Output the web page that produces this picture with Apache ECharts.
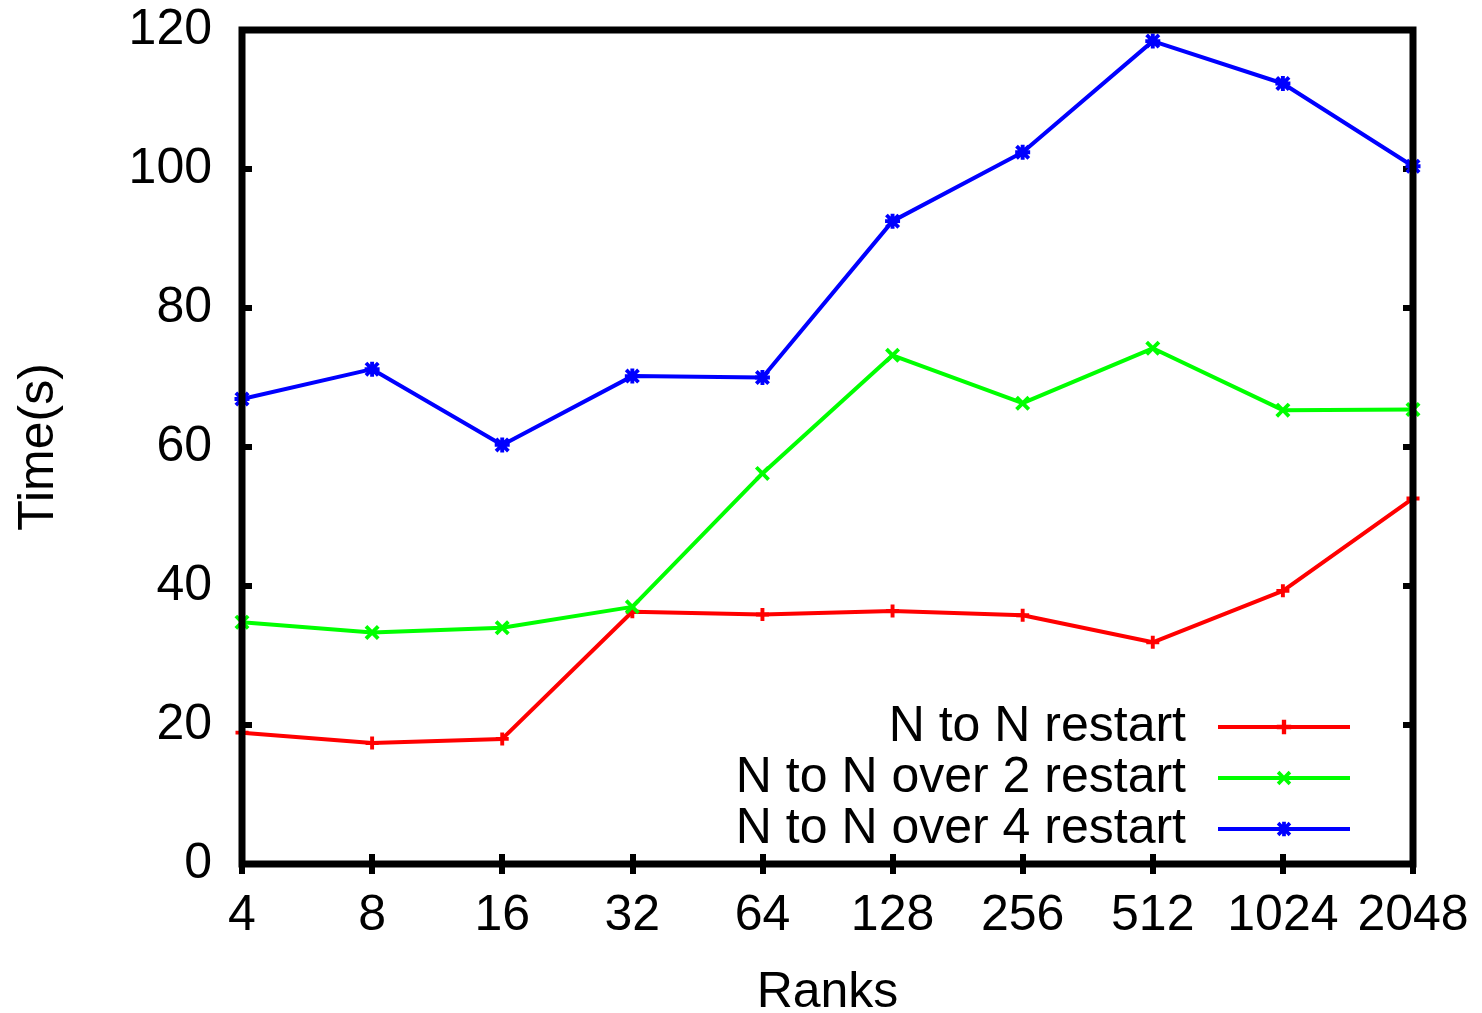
<!DOCTYPE html>
<html>
<head>
<meta charset="utf-8">
<script src="https://cdn.jsdelivr.net/npm/echarts@6/dist/echarts.min.js"></script>
<style>html,body{margin:0;padding:0;background:#fff;}#c{width:1482px;height:1013px;}</style>
</head>
<body>
<div id="c"></div>
<script>
const categories = ['4','8','16','32','64','128','256','512','1024','2048'];
const seriesNames = ['N to N restart','N to N over 2 restart','N to N over 4 restart'];
const nToN = [18.9,17.4,18.0,36.3,35.9,36.4,35.8,31.9,39.3,52.6];
const nToNOver2 = [34.8,33.3,34.0,37.0,56.2,73.2,66.3,74.2,65.3,65.4];
const nToNOver4 = [66.9,71.2,60.3,70.2,70.0,92.5,102.4,118.4,112.3,100.4];
const yTicks = {min:0, max:120, interval:20};

const PLUS = 'path://M35,0H65V35H100V65H65V100H35V65H0V35H35Z';
const XS = 'M0,18L18,0L50,32L82,0L100,18L68,50L100,82L82,100L50,68L18,100L0,82L32,50Z';
const CROSS = 'path://' + XS;
const STAR = 'path://M37,0H63V37H100V63H63V100H37V63H0V37H37Z' + XS;

const font = "'Liberation Sans', Arial, Helvetica, sans-serif";
const chart = echarts.init(document.getElementById('c'));

function mk(name, data, color, symbol, size) {
  return {
    name, type:'line', data, symbol, symbolSize:size,
    showAllSymbol:true,
    lineStyle:{color, width:4},
    itemStyle:{color, borderWidth:0},
    emphasis:{disabled:true},
    animation:false,
    z: 3
  };
}

chart.setOption({
  animation:false,
  backgroundColor:'#fff',
  grid:{left:242, right:69, top:30, bottom:149, show:true, borderColor:'#000', borderWidth:7,
        backgroundColor:'transparent', z:5, containLabel:false, outerBoundsMode:'none'},
  legend:{
    orient:'vertical', align:'right', right:130, top:702, padding:0,
    itemWidth:132, itemHeight:18, itemGap:1,
    lineStyle:{width:4},
    textStyle:{fontSize:50, lineHeight:50, color:'#000', fontFamily:font, padding:[0,27,0,0]},
    data:seriesNames, selectedMode:false
  },
  xAxis:[{
    type:'category', data:categories, boundaryGap:false,
    axisLine:{show:false},
    axisTick:{show:true, inside:true, length:10, lineStyle:{color:'#000', width:6}, alignWithLabel:true},
    axisLabel:{fontSize:50, color:'#000', fontFamily:font, margin:27, interval:0},
    splitLine:{show:false},
    name:'Ranks', nameLocation:'middle', nameGap:104,
    nameTextStyle:{fontSize:50, color:'#000', fontFamily:font}
  },{
    type:'category', data:categories, boundaryGap:false, position:'top',
    axisLine:{show:false},
    axisTick:{show:true, inside:true, length:10, lineStyle:{color:'#000', width:6}},
    axisLabel:{show:false}, splitLine:{show:false}
  }],
  yAxis:[{
    type:'value', min:yTicks.min, max:yTicks.max, interval:yTicks.interval,
    axisLine:{show:false},
    axisTick:{show:true, inside:true, length:10, lineStyle:{color:'#000', width:6}},
    axisLabel:{fontSize:50, color:'#000', fontFamily:font, margin:30, padding:[8,0,0,0]},
    splitLine:{show:false},
    name:'Time(s)', nameLocation:'middle', nameGap:178, nameRotate:90,
    nameTextStyle:{fontSize:50, color:'#000', fontFamily:font}
  },{
    type:'value', min:yTicks.min, max:yTicks.max, interval:yTicks.interval, position:'right',
    axisLine:{show:false},
    axisTick:{show:true, inside:true, length:10, lineStyle:{color:'#000', width:6}},
    axisLabel:{show:false}, splitLine:{show:false}
  }],
  series:[
    mk(seriesNames[0], nToN, '#ff0000', PLUS, 13),
    mk(seriesNames[1], nToNOver2, '#00ff00', CROSS, 15),
    mk(seriesNames[2], nToNOver4, '#0000ff', STAR, 15)
  ]
});
</script>
</body>
</html>
